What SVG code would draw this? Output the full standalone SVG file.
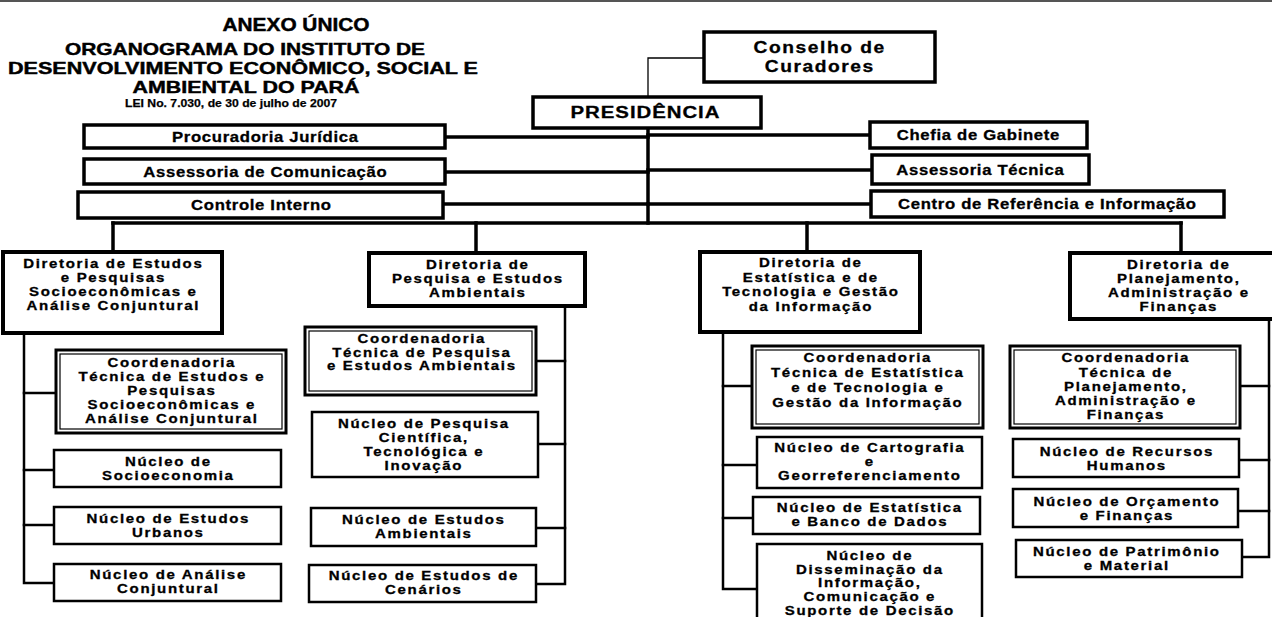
<svg xmlns="http://www.w3.org/2000/svg" width="1272" height="617" viewBox="0 0 1272 617">
<style>
.t{font-family:"Liberation Sans",Arial,sans-serif;font-weight:bold;fill:#000;text-anchor:middle;stroke:#000;stroke-width:0.3}
.b{font-size:12.5px;letter-spacing:1.4px}
.s{font-size:14.5px;letter-spacing:0.6px}
.h{font-size:16px;letter-spacing:1.3px}
.p{font-size:17px;letter-spacing:0.8px}
.ti{font-size:17px;stroke-width:0.45}
.box{fill:#fff;stroke:#000}
.dir{stroke-width:4}
.staff{stroke-width:3.5}
.nuc{stroke-width:2.5}
.co{stroke-width:3}
.ci{fill:none;stroke:#000;stroke-width:1.2}
.ln{fill:none;stroke:#000;stroke-linecap:square}
.thick{stroke-width:3.5}
.mid{stroke-width:2.5}
.thin{stroke-width:1.3}
</style>
<rect x="0" y="0" width="1272" height="2" fill="#555"/>

<g id="title">
<text class="t ti" x="296" y="31" textLength="147" lengthAdjust="spacingAndGlyphs" style="font-size:19px">ANEXO ÚNICO</text>
<text class="t ti" x="245" y="55" textLength="360" lengthAdjust="spacingAndGlyphs">ORGANOGRAMA DO INSTITUTO DE</text>
<text class="t ti" x="243" y="74" textLength="470" lengthAdjust="spacingAndGlyphs">DESENVOLVIMENTO ECONÔMICO, SOCIAL E</text>
<text class="t ti" x="246" y="93" textLength="227" lengthAdjust="spacingAndGlyphs">AMBIENTAL DO PARÁ</text>
<text class="t" x="231" y="107" textLength="212" lengthAdjust="spacingAndGlyphs" style="font-size:11px;stroke-width:0.25">LEI  No. 7.030, de 30 de julho de 2007</text>
</g>

<g id="connectors">
<polyline class="ln thin" points="704,58 648,58 648,97"/>
<line class="ln thick" x1="648" y1="128" x2="648" y2="223"/>
<line class="ln thick" x1="445" y1="137" x2="648" y2="137"/>
<line class="ln thick" x1="445" y1="172" x2="648" y2="172"/>
<line class="ln thick" x1="443" y1="204" x2="648" y2="204"/>
<line class="ln thick" x1="648" y1="135" x2="870" y2="135"/>
<line class="ln thick" x1="648" y1="170" x2="872" y2="170"/>
<line class="ln thick" x1="648" y1="204" x2="871" y2="204"/>
<line class="ln thick" x1="113" y1="223" x2="1181" y2="223"/>
<line class="ln thick" x1="113" y1="223" x2="113" y2="252"/>
<line class="ln thick" x1="476" y1="223" x2="476" y2="253"/>
<line class="ln thick" x1="807" y1="223" x2="807" y2="252"/>
<line class="ln thick" x1="1181" y1="223" x2="1181" y2="253"/>
<polyline class="ln mid" points="24,333 24,583 54,583"/>
<line class="ln mid" x1="24" y1="393" x2="56" y2="393"/>
<line class="ln mid" x1="24" y1="470" x2="54" y2="470"/>
<line class="ln mid" x1="24" y1="525" x2="54" y2="525"/>
<polyline class="ln mid" points="565,306 565,584 536,584"/>
<line class="ln mid" x1="536" y1="361" x2="565" y2="361"/>
<line class="ln mid" x1="538" y1="444" x2="565" y2="444"/>
<line class="ln mid" x1="536" y1="528" x2="565" y2="528"/>
<polyline class="ln mid" points="723,332 723,589 757,589"/>
<line class="ln mid" x1="723" y1="386" x2="752" y2="386"/>
<line class="ln mid" x1="723" y1="465" x2="757" y2="465"/>
<line class="ln mid" x1="723" y1="518" x2="753" y2="518"/>
<polyline class="ln mid" points="1269,319 1269,557 1242,557"/>
<line class="ln mid" x1="1240" y1="386" x2="1269" y2="386"/>
<line class="ln mid" x1="1239" y1="460" x2="1269" y2="460"/>
<line class="ln mid" x1="1238" y1="511" x2="1269" y2="511"/>
</g>

<g id="conselho">
<rect class="box staff" x="704" y="32" width="231" height="50"/>
<g transform="matrix(1.2 0 0 1 -163.8 0)">
<text class="t h" x="819.6" y="53">Conselho de</text>
<text class="t h" x="819.6" y="72">Curadores</text>
</g>
</g>
<g id="presidencia">
<rect class="box staff" x="533" y="97" width="228" height="31"/>
<g transform="matrix(1.2 0 0 1 -129 0)">
<text class="t p" x="645.4" y="118">PRESIDÊNCIA</text>
</g>
</g>

<g id="procuradoria">
<rect class="box staff" x="84" y="125" width="361" height="23"/>
<g transform="matrix(1.15 0 0 1 -39.75 0)"><text class="t s" x="265.3" y="142">Procuradoria Jurídica</text></g>
</g>
<g id="assessoria-comunicacao">
<rect class="box staff" x="84" y="159" width="361" height="25"/>
<g transform="matrix(1.15 0 0 1 -39.75 0)"><text class="t s" x="265.3" y="177">Assessoria de Comunicação</text></g>
</g>
<g id="controle-interno">
<rect class="box staff" x="78" y="192" width="365" height="26"/>
<g transform="matrix(1.15 0 0 1 -39.15 0)"><text class="t s" x="261.3" y="210">Controle Interno</text></g>
</g>
<g id="chefia-gabinete">
<rect class="box staff" x="870" y="122" width="217" height="26"/>
<g transform="matrix(1.15 0 0 1 -146.7 0)"><text class="t s" x="978.3" y="140">Chefia de Gabinete</text></g>
</g>
<g id="assessoria-tecnica">
<rect class="box staff" x="872" y="155" width="217" height="29"/>
<g transform="matrix(1.15 0 0 1 -147 0)"><text class="t s" x="980.3" y="175">Assessoria Técnica</text></g>
</g>
<g id="centro-referencia">
<rect class="box staff" x="871" y="191" width="353" height="26"/>
<g transform="matrix(1.15 0 0 1 -157.05 0)"><text class="t s" x="1047.3" y="209">Centro de Referência e Informação</text></g>
</g>

<g id="dir1">
<rect class="box dir" x="3" y="252" width="219" height="81"/>
<g transform="matrix(1.2 0 0 1 -22.5 0)">
<text class="t b" x="113.2" y="268.5">Diretoria de Estudos</text>
<text class="t b" x="113.2" y="282.5">e Pesquisas</text>
<text class="t b" x="113.2" y="296.5">Socioeconômicas e</text>
<text class="t b" x="113.2" y="310.5">Análise Conjuntural</text>
</g>
</g>
<g id="dir2">
<rect class="box dir" x="369" y="253" width="216" height="53"/>
<g transform="matrix(1.2 0 0 1 -95.4 0)">
<text class="t b" x="477.7" y="269.5">Diretoria de</text>
<text class="t b" x="477.7" y="283.5">Pesquisa e Estudos</text>
<text class="t b" x="477.7" y="297.5">Ambientais</text>
</g>
</g>
<g id="dir3">
<rect class="box dir" x="700" y="252" width="220" height="80"/>
<g transform="matrix(1.2 0 0 1 -162 0)">
<text class="t b" x="810.7" y="267.5">Diretoria de</text>
<text class="t b" x="810.7" y="282">Estatística e de</text>
<text class="t b" x="810.7" y="296.5">Tecnologia e Gestão</text>
<text class="t b" x="810.7" y="311">da Informação</text>
</g>
</g>
<g id="dir4">
<rect class="box dir" x="1070" y="253" width="212" height="66"/>
<g transform="matrix(1.2 0 0 1 -235.6 0)">
<text class="t b" x="1178.7" y="269.5">Diretoria de</text>
<text class="t b" x="1178.7" y="283.5">Planejamento,</text>
<text class="t b" x="1178.7" y="297.5">Administração e</text>
<text class="t b" x="1178.7" y="311.5">Finanças</text>
</g>
</g>

<g id="coord1">
<rect class="box co" x="56" y="350" width="230" height="83"/>
<rect class="ci" x="60" y="354" width="222" height="75"/>
<g transform="matrix(1.2 0 0 1 -34.2 0)">
<text class="t b" x="171.7" y="367.5">Coordenadoria</text>
<text class="t b" x="171.7" y="381.5">Técnica de Estudos e</text>
<text class="t b" x="171.7" y="395.5">Pesquisas</text>
<text class="t b" x="171.7" y="409.5">Socioeconômicas e</text>
<text class="t b" x="171.7" y="423">Análise Conjuntural</text>
</g>
</g>
<g id="nuc-socioeconomia">
<rect class="box nuc" x="54" y="450" width="227" height="37"/>
<g transform="matrix(1.2 0 0 1 -33.5 0)">
<text class="t b" x="168.2" y="466.5">Núcleo de</text>
<text class="t b" x="168.2" y="480.5">Socioeconomia</text>
</g>
</g>
<g id="nuc-urbanos">
<rect class="box nuc" x="54" y="507" width="227" height="37"/>
<g transform="matrix(1.2 0 0 1 -33.5 0)">
<text class="t b" x="168.2" y="523.5">Núcleo de Estudos</text>
<text class="t b" x="168.2" y="537">Urbanos</text>
</g>
</g>
<g id="nuc-analise">
<rect class="box nuc" x="54" y="564" width="227" height="37"/>
<g transform="matrix(1.2 0 0 1 -33.5 0)">
<text class="t b" x="168.2" y="579.5">Núcleo de Análise</text>
<text class="t b" x="168.2" y="593">Conjuntural</text>
</g>
</g>

<g id="coord2">
<rect class="box co" x="305" y="327" width="231" height="68"/>
<rect class="ci" x="309" y="331" width="223" height="60"/>
<g transform="matrix(1.2 0 0 1 -84.2 0)">
<text class="t b" x="421.7" y="343.5">Coordenadoria</text>
<text class="t b" x="421.7" y="357">Técnica de Pesquisa</text>
<text class="t b" x="421.7" y="370.5">e Estudos Ambientais</text>
</g>
</g>
<g id="nuc-pesquisa">
<rect class="box nuc" x="312" y="412" width="226" height="65"/>
<g transform="matrix(1.2 0 0 1 -84.6 0)">
<text class="t b" x="423.7" y="428.5">Núcleo de Pesquisa</text>
<text class="t b" x="423.7" y="442.5">Científica,</text>
<text class="t b" x="423.7" y="456.5">Tecnológica e</text>
<text class="t b" x="423.7" y="470.5">Inovação</text>
</g>
</g>
<g id="nuc-ambientais">
<rect class="box nuc" x="311" y="508" width="225" height="38"/>
<g transform="matrix(1.2 0 0 1 -84.6 0)">
<text class="t b" x="423.7" y="524.5">Núcleo de Estudos</text>
<text class="t b" x="423.7" y="538.5">Ambientais</text>
</g>
</g>
<g id="nuc-cenarios">
<rect class="box nuc" x="309" y="565" width="227" height="37"/>
<g transform="matrix(1.2 0 0 1 -84.6 0)">
<text class="t b" x="423.7" y="580.5">Núcleo de Estudos de</text>
<text class="t b" x="423.7" y="594.5">Cenários</text>
</g>
</g>

<g id="coord3">
<rect class="box co" x="752" y="346" width="231" height="82"/>
<rect class="ci" x="756" y="350" width="223" height="74"/>
<g transform="matrix(1.2 0 0 1 -173.4 0)">
<text class="t b" x="867.7" y="362.5">Coordenadoria</text>
<text class="t b" x="867.7" y="377.5">Técnica de Estatística</text>
<text class="t b" x="867.7" y="392.5">e de Tecnologia e</text>
<text class="t b" x="867.7" y="407.5">Gestão da Informação</text>
</g>
</g>
<g id="nuc-cartografia">
<rect class="box nuc" x="757" y="437" width="225" height="51"/>
<g transform="matrix(1.2 0 0 1 -173.8 0)">
<text class="t b" x="869.7" y="452.5">Núcleo de Cartografia</text>
<text class="t b" x="869.7" y="466.5">e</text>
<text class="t b" x="869.7" y="480.5">Georreferenciamento</text>
</g>
</g>
<g id="nuc-estatistica">
<rect class="box nuc" x="753" y="497" width="227" height="37"/>
<g transform="matrix(1.2 0 0 1 -173.8 0)">
<text class="t b" x="869.7" y="512.5">Núcleo de Estatística</text>
<text class="t b" x="869.7" y="526.5">e Banco de Dados</text>
</g>
</g>
<g id="nuc-disseminacao">
<rect class="box nuc" x="757" y="544" width="225" height="80"/>
<g transform="matrix(1.2 0 0 1 -173.8 0)">
<text class="t b" x="869.7" y="560.5">Núcleo de</text>
<text class="t b" x="869.7" y="574">Disseminação da</text>
<text class="t b" x="869.7" y="587.5">Informação,</text>
<text class="t b" x="869.7" y="601.5">Comunicação e</text>
<text class="t b" x="869.7" y="615.5">Suporte de Decisão</text>
</g>
</g>

<g id="coord4">
<rect class="box co" x="1010" y="346" width="230" height="82"/>
<rect class="ci" x="1014" y="350" width="222" height="74"/>
<g transform="matrix(1.2 0 0 1 -225 0)">
<text class="t b" x="1125.7" y="362.5">Coordenadoria</text>
<text class="t b" x="1125.7" y="377">Técnica de</text>
<text class="t b" x="1125.7" y="391">Planejamento,</text>
<text class="t b" x="1125.7" y="405">Administração e</text>
<text class="t b" x="1125.7" y="419">Finanças</text>
</g>
</g>
<g id="nuc-rh">
<rect class="box nuc" x="1013" y="439" width="226" height="38"/>
<g transform="matrix(1.2 0 0 1 -225.2 0)">
<text class="t b" x="1126.7" y="456.5">Núcleo de Recursos</text>
<text class="t b" x="1126.7" y="470.5">Humanos</text>
</g>
</g>
<g id="nuc-orcamento">
<rect class="box nuc" x="1013" y="489" width="225" height="38"/>
<g transform="matrix(1.2 0 0 1 -225.2 0)">
<text class="t b" x="1126.7" y="506.5">Núcleo de Orçamento</text>
<text class="t b" x="1126.7" y="520.5">e Finanças</text>
</g>
</g>
<g id="nuc-patrimonio">
<rect class="box nuc" x="1016" y="540" width="226" height="37"/>
<g transform="matrix(1.2 0 0 1 -225.2 0)">
<text class="t b" x="1126.7" y="556.5">Núcleo de Patrimônio</text>
<text class="t b" x="1126.7" y="570.5">e Material</text>
</g>
</g>
</svg>
